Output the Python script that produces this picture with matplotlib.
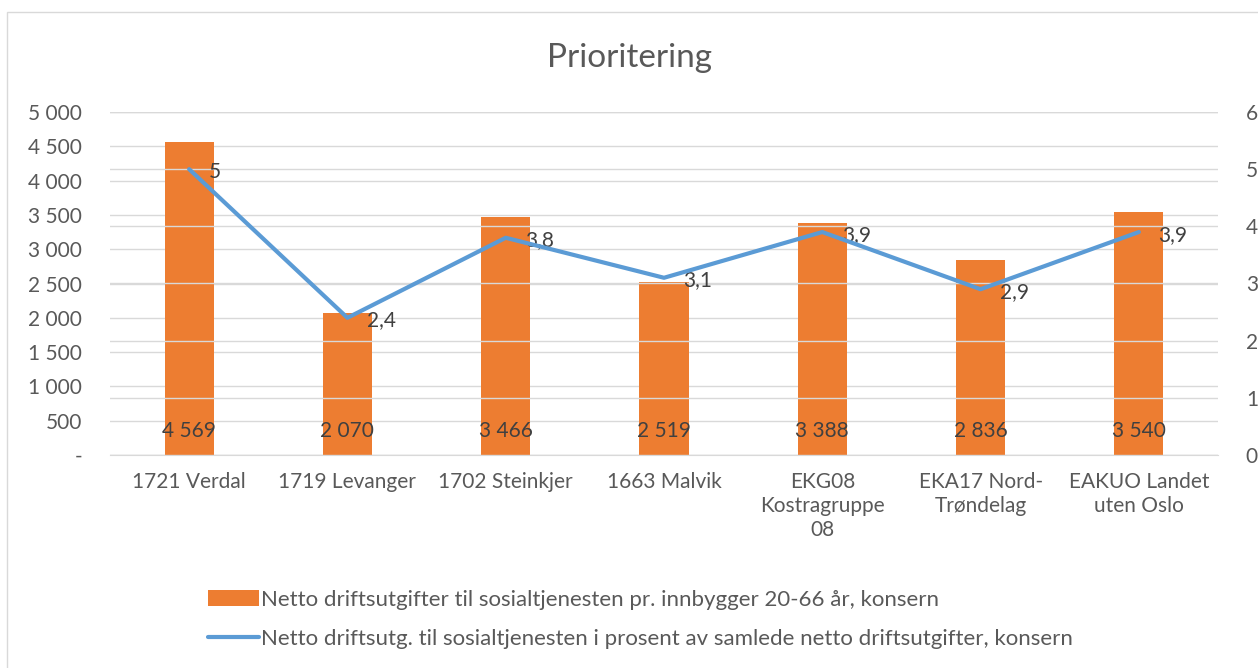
import matplotlib
matplotlib.use("Agg")
import matplotlib.pyplot as plt
from matplotlib.patches import Rectangle
from matplotlib.ticker import FuncFormatter

plt.rcParams["font.family"] = ["Lato", "DejaVu Sans"]

CATEGORIES = ["1721 Verdal", "1719 Levanger", "1702 Steinkjer", "1663 Malvik",
              "EKG08\nKostragruppe\n08", "EKA17 Nord-\nTrøndelag", "EAKUO Landet\nuten Oslo"]
NOK_PER_CAPITA = [4569, 2070, 3466, 2519, 3388, 2836, 3540]
PCT_OF_TOTAL = [5.0, 2.4, 3.8, 3.1, 3.9, 2.9, 3.9]

BAR_LABEL = "Netto driftsutgifter til sosialtjenesten pr. innbygger 20-66 år, konsern"
LINE_LABEL = "Netto driftsutg. til sosialtjenesten i prosent av samlede netto driftsutgifter, konsern"

ORANGE = "#ED7D31"
BLUE = "#5B9BD5"
TEXT = "#595959"
GRID = "#D9D9D9"
FS = 15


def thousands(v, pos=None):
    if v == 0:
        return "-"
    return f"{int(v):,}".replace(",", " ")


def pct(v):
    return f"{v:g}".replace(".", ",")


fig = plt.figure(figsize=(12.58, 6.68), dpi=100)
ax = fig.add_axes([110 / 1258, 213 / 668, 1108 / 1258, 343 / 668])
ax2 = ax.twinx()

x = list(range(len(CATEGORIES)))
ax.bar(x, NOK_PER_CAPITA, width=0.31, color=ORANGE, zorder=3, label=BAR_LABEL)
ax.set_ylim(0, 5000)
ax.set_yticks(range(0, 5001, 500))
ax.yaxis.set_major_formatter(FuncFormatter(thousands))
ax.set_xlim(-0.5, len(CATEGORIES) - 0.5)
ax.set_xticks(x)
ax.set_xticklabels(CATEGORIES, fontsize=FS, color=TEXT, linespacing=1.25)
ax.grid(axis="y", color=GRID, linewidth=1, zorder=0)

# value labels at the base of each bar
for xi, v in zip(x, NOK_PER_CAPITA):
    ax.annotate(thousands(v), (xi, 0), xytext=(0, 17), textcoords="offset points",
                ha="center", va="center", fontsize=FS, color="#404040", zorder=5)

ax2.plot(x, PCT_OF_TOTAL, color=BLUE, linewidth=3, solid_capstyle="round",
         zorder=4, label=LINE_LABEL)
ax2.set_ylim(0, 6)
ax2.set_yticks(range(0, 7))
ax2.grid(axis="y", color=GRID, linewidth=1, zorder=0)
for xi, v in zip(x, PCT_OF_TOTAL):
    ax2.annotate(pct(v), (xi, v), xytext=(14, -2), textcoords="offset points",
                 ha="left", va="center", fontsize=FS, color="#404040")

for a in (ax, ax2):
    for s in a.spines.values():
        s.set_visible(False)
    a.tick_params(length=0, labelsize=FS, labelcolor=TEXT)
ax.spines["bottom"].set_visible(True)
ax.spines["bottom"].set_color(GRID)
ax.tick_params(axis="y", pad=20)
ax.tick_params(axis="x", pad=12)
ax2.tick_params(axis="y", pad=20)

fig.text(0.5, 1 - 58 / 668, "Prioritering", ha="center", va="center",
         fontsize=24, color=TEXT)

h1, l1 = ax.get_legend_handles_labels()
h2, l2 = ax2.get_legend_handles_labels()
fig.legend(h1 + h2, l1 + l2, loc="upper left", bbox_to_anchor=(208 / 1258, 1 - 590 / 668),
           frameon=False, fontsize=16, labelcolor=TEXT, handlelength=2.3,
           handletextpad=0.1, labelspacing=0.85, borderpad=0, borderaxespad=0)

fig.patches.append(Rectangle((7 / 1258, -0.01), 1.1, 1 - 12 / 668 + 0.01,
                             transform=fig.transFigure, fill=False,
                             edgecolor="#D9D9D9", linewidth=1))

fig.savefig("out.png", dpi=100)
